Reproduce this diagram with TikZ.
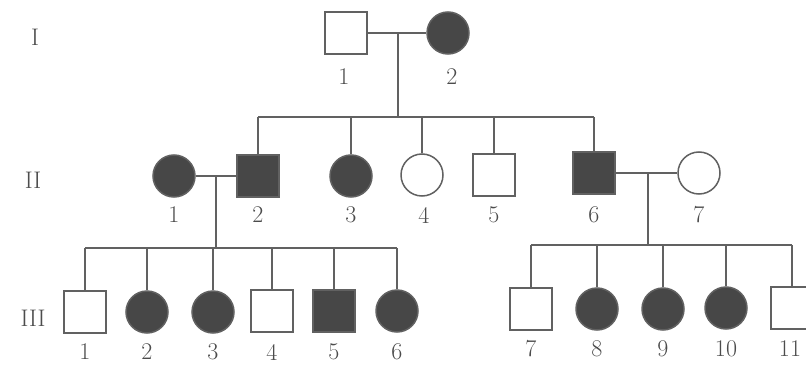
\documentclass[tikz,border=0pt]{standalone}
\usetikzlibrary{calc}
\begin{document}
\begin{tikzpicture}[x=1pt,y=-1pt,
  line/.style={draw=black!62,line width=1.5pt},
  male/.style={rectangle,draw=black!62,line width=1.5pt,minimum size=42pt,inner sep=0pt,fill=white},
  female/.style={circle,draw=black!62,line width=1.5pt,minimum size=42pt,inner sep=0pt,fill=white},
  sick/.style={fill=black!72},
  num/.style={font=\fontsize{24}{26}\selectfont,text=black!70,inner sep=0pt},
  gen/.style={font=\fontsize{24}{26}\selectfont,text=black!70,inner sep=0pt}]
\useasboundingbox (0,0) rectangle (806,369);
\clip (0,0) rectangle (806,369);

% generation labels
\node[gen] (gI) at (35,37) {I};
\node[gen] (gII) at (33,180) {II};
\node[gen] (gIII) at (33,318) {III};

% generation I
\node[male] (I1) at (346,33) {};
\node[female,sick] (I2) at (448,33) {};
\node[num] (nI1) at (344,77) {1};
\node[num] (nI2) at (452,77) {2};
\coordinate (mI) at (398,33);
\coordinate (sI) at (398,117);
\draw[line] (I1.east) -- (I2.west);
\draw[line] (mI) -- (sI);

% generation II
\node[female,sick] (II1) at (174,176) {};
\node[male,sick] (II2) at (258,176) {};
\node[female,sick] (II3) at (351,176) {};
\node[female] (II4) at (422,175) {};
\node[male] (II5) at (494,175) {};
\node[male,sick] (II6) at (594,173) {};
\node[female] (II7) at (699,173) {};
\foreach \n/\x in {1/174,2/258,3/351,4/424,5/494,6/594,7/699}
  \node[num] (nII\n) at (\x,215) {\n};

% sibship of I-1 x I-2
\draw[line] (II2.north |- sI) -- (II6.north |- sI);
\foreach \c in {II2,II3,II4,II5,II6}
  \draw[line] (\c.north |- sI) -- (\c.north);

% couple II-1 x II-2
\draw[line] (II1.east) -- (II2.west);
\coordinate (mII12) at (216,176);
\coordinate (sII12) at (216,248);
\draw[line] (mII12) -- (sII12);

% couple II-6 x II-7
\draw[line] (II6.east) -- (II7.west);
\coordinate (mII67) at (648,173);
\coordinate (sII67) at (648,245);
\draw[line] (mII67) -- (sII67);

% generation III, left family
\node[male] (III1) at (85,312) {};
\node[female,sick] (III2) at (147,312) {};
\node[female,sick] (III3) at (213,312) {};
\node[male] (III4) at (272,311) {};
\node[male,sick] (III5) at (334,311) {};
\node[female,sick] (III6) at (397,311) {};
\draw[line] (III1.north |- sII12) -- (III6.north |- sII12);
\foreach \c in {III1,III2,III3,III4,III5,III6}
  \draw[line] (\c.north |- sII12) -- (\c.north);

% generation III, right family
\node[male] (III7) at (531,309) {};
\node[female,sick] (III8) at (597,309) {};
\node[female,sick] (III9) at (663,309) {};
\node[female,sick] (III10) at (726,308) {};
\node[male] (III11) at (792,308) {};
\draw[line] (III7.north |- sII67) -- (III11.north |- sII67);
\foreach \c in {III7,III8,III9,III10,III11}
  \draw[line] (\c.north |- sII67) -- (\c.north);

\foreach \n/\x in {1/85,2/147,3/213,4/272,5/334,6/397}
  \node[num] (nIII\n) at (\x,352) {\n};
\foreach \n/\x in {7/531,8/597,9/663,10/726,11/790}
  \node[num] (nIII\n) at (\x,349) {\n};
\end{tikzpicture}
\end{document}
